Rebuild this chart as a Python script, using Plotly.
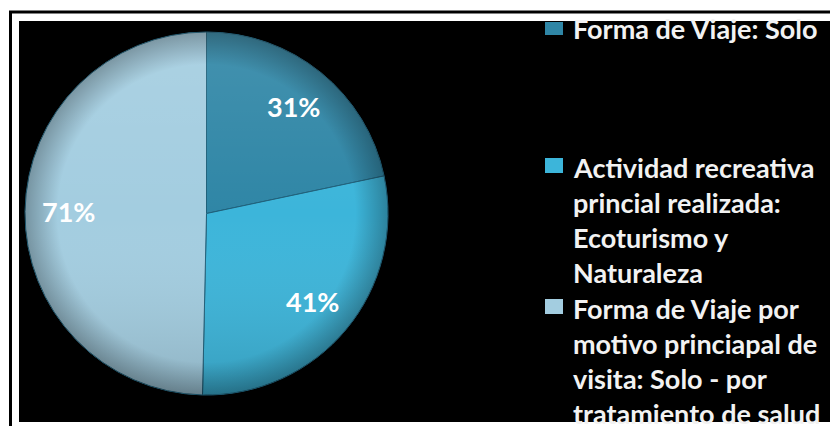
import base64
import math
import plotly.graph_objects as go

# Travel-profile shares shown in the pie
labels = [
    "Forma de Viaje: Solo",
    "Actividad recreativa<br>princial realizada:<br>Ecoturismo y<br>Naturaleza",
    "Forma de Viaje por<br>motivo princiapal de<br>visita: Solo - por<br>tratamiento de salud",
]
values = [31, 41, 71]
colors = ["#2f86a6", "#3cb5da", "#a3cde0"]

W, H = 830, 426

# pie geometry in pixels
CX, CY, R = 206.5, 213.5, 181.5


def px(x):
    return x / W


def py(y):
    return 1 - y / H


fig = go.Figure()

fig.add_trace(go.Pie(
    labels=[l.replace("<br>", " ") for l in labels],
    values=values,
    sort=False,
    direction="clockwise",
    rotation=0,
    marker=dict(colors=colors, line=dict(color="#1f607a", width=1)),
    textinfo="none",
    domain=dict(x=[px(CX - R), px(CX + R)], y=[py(CY + R), py(CY - R)]),
    showlegend=False,
    hoverinfo="label+value",
))

# percentage labels placed along each slice's bisector
total = sum(values)
annotations = []
cum = 0
for v in values:
    mid = 2 * math.pi * (cum + v / 2) / total
    cum += v
    lx = CX + 0.76 * R * math.sin(mid)
    ly = CY - 0.76 * R * math.cos(mid)
    annotations.append(dict(
        x=px(lx), y=py(ly), xref="paper", yref="paper",
        xanchor="center", yanchor="middle", showarrow=False,
        text=f"{v}%",
        font=dict(family="Lato", size=27, color="#ffffff", weight="bold"),
    ))

shapes = [
    # outer frame line
    dict(type="rect", xref="paper", yref="paper", layer="below",
         x0=px(10.5), x1=px(845), y0=py(440), y1=py(12),
         line=dict(color="#000000", width=3), fillcolor="rgba(0,0,0,0)"),
    # black panel
    dict(type="rect", xref="paper", yref="paper", layer="below",
         x0=px(19), x1=px(835), y0=py(422), y1=py(21),
         line=dict(width=0), fillcolor="#000000"),
]

entry_baselines = [39, 177, 318]
line_step = 35.3
for i, (lab, col) in enumerate(zip(labels, colors)):
    base = entry_baselines[i]
    # legend swatch
    shapes.append(dict(type="rect", xref="paper", yref="paper", layer="above",
                       x0=px(545), x1=px(563),
                       y0=py(base - 4), y1=py(max(22, base - 19)),
                       line=dict(width=0), fillcolor=col))
    for j, line in enumerate(lab.split("<br>")):
        annotations.append(dict(
            x=px(571), y=py(base + j * line_step - 10),
            xref="paper", yref="paper", xanchor="left", yanchor="middle",
            text=line, showarrow=False,
            font=dict(family="Lato", size=27, color="#f2f2f2", weight="bold"),
        ))

# soft bevel shading over the pie disc
svg = (
    f'<svg xmlns="http://www.w3.org/2000/svg" width="{W}" height="{H}" viewBox="0 0 {W} {H}">'
    '<defs>'
    '<radialGradient id="rim" cx="0.5" cy="0.5" r="0.5">'
    '<stop offset="0.82" stop-color="#000" stop-opacity="0"/>'
    '<stop offset="1" stop-color="#000" stop-opacity="0.28"/>'
    '</radialGradient>'
    '<linearGradient id="tone" x1="0" y1="0" x2="0" y2="1">'
    '<stop offset="0" stop-color="#fff" stop-opacity="0.10"/>'
    '<stop offset="0.5" stop-color="#fff" stop-opacity="0"/>'
    '<stop offset="1" stop-color="#000" stop-opacity="0.14"/>'
    '</linearGradient>'
    '</defs>'
    f'<circle cx="{CX}" cy="{CY}" r="{R}" fill="url(#tone)"/>'
    f'<circle cx="{CX}" cy="{CY}" r="{R}" fill="url(#rim)"/>'
    '</svg>'
)
shade = "data:image/svg+xml;base64," + base64.b64encode(svg.encode()).decode()

fig.update_layout(
    width=W, height=H,
    margin=dict(l=0, r=0, t=0, b=0),
    paper_bgcolor="#ffffff",
    plot_bgcolor="#ffffff",
    shapes=shapes,
    annotations=annotations,
    images=[dict(source=shade, xref="paper", yref="paper", x=0, y=1,
                 sizex=1, sizey=1, xanchor="left", yanchor="top",
                 sizing="stretch", layer="above")],
)

fig.write_html("out.html")
